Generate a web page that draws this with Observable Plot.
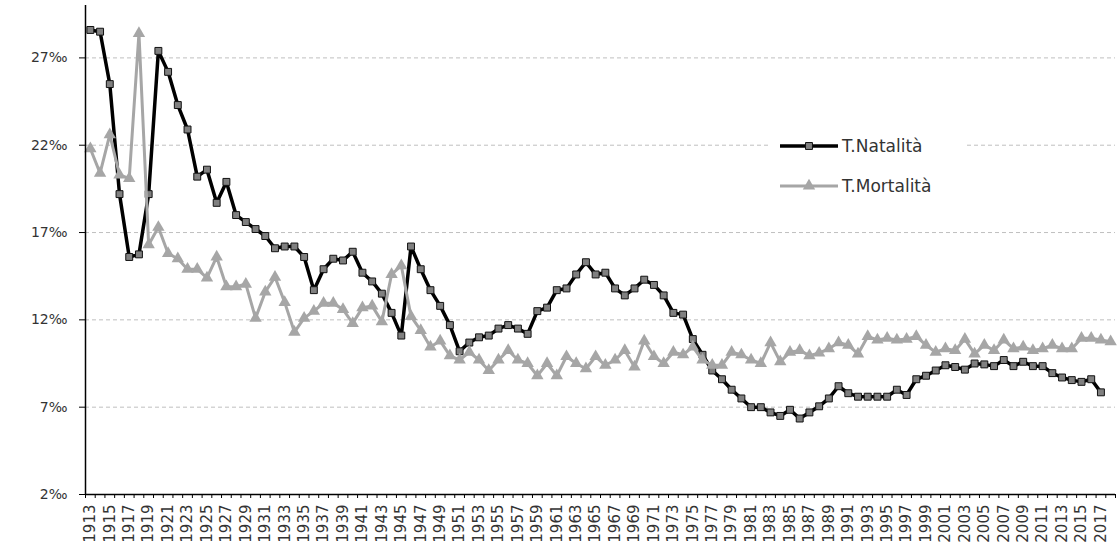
<!DOCTYPE html>
<html>
<head>
<meta charset="utf-8">
<script src="https://cdn.jsdelivr.net/npm/d3@7"></script>
<script src="https://cdn.jsdelivr.net/npm/@observablehq/plot@0.6"></script>
<style>
  html, body { margin: 0; padding: 0; background: #fff; }
  #wrap { position: relative; width: 1120px; height: 547px; font-family: "DejaVu Sans", Verdana, sans-serif; }
  #legend { position: absolute; left: 770px; top: 126px; width: 195px; height: 76px; background: #fff; }
  #legend svg { display: block; }
</style>
</head>
<body>
<div id="wrap"><div id="legend"></div></div>
<script>
const years = d3.range(1913, 2019);
const natalita = [
  28.6, 28.5, 25.5, 19.2, 15.6, 15.75, 19.2, 27.4, 26.2, 24.3,
  22.9, 20.2, 20.6, 18.7, 19.9, 18.0, 17.6, 17.2, 16.8, 16.1,
  16.2, 16.2, 15.6, 13.7, 14.9, 15.5, 15.4, 15.9, 14.7, 14.2,
  13.5, 12.4, 11.1, 16.2, 14.9, 13.7, 12.8, 11.7, 10.2, 10.7,
  11.0, 11.1, 11.5, 11.7, 11.5, 11.2, 12.5, 12.7, 13.7, 13.8,
  14.6, 15.3, 14.6, 14.7, 13.8, 13.4, 13.8, 14.3, 14.0, 13.4,
  12.4, 12.3, 10.9, 10.0, 9.1, 8.6, 8.0, 7.5, 7.0, 7.0,
  6.7, 6.5, 6.85, 6.35, 6.7, 7.05, 7.5, 8.2, 7.8, 7.6,
  7.6, 7.6, 7.6, 8.0, 7.7, 8.6, 8.8, 9.1, 9.4, 9.3,
  9.15, 9.5, 9.45, 9.35, 9.7, 9.35, 9.6, 9.35, 9.35, 8.95,
  8.7, 8.55, 8.45, 8.6, 7.85
];
const mortalita = [
  21.8, 20.4, 22.6, 20.3, 20.1, 28.4, 16.3, 17.3, 15.8, 15.5,
  14.9, 14.9, 14.4, 15.6, 13.9, 13.9, 14.05, 12.1, 13.6, 14.45,
  13.0, 11.3, 12.1, 12.5, 12.95, 12.95, 12.6, 11.8, 12.7, 12.8,
  11.9, 14.6, 15.1, 12.2, 11.4, 10.45, 10.8, 9.95, 9.7, 10.15,
  9.7, 9.1, 9.7, 10.25, 9.7, 9.5, 8.8, 9.5, 8.8, 9.9,
  9.5, 9.2, 9.9, 9.4, 9.7, 10.25, 9.3, 10.8, 9.9, 9.5,
  10.15, 10.0, 10.45, 9.7, 9.4, 9.4, 10.15, 10.0, 9.7, 9.5,
  10.7, 9.6, 10.15, 10.25, 9.95, 10.1, 10.35, 10.7, 10.55, 10.05,
  11.05, 10.85, 10.95, 10.85, 10.9, 11.05, 10.55, 10.15, 10.35, 10.25,
  10.9, 10.05, 10.55, 10.25, 10.85, 10.35, 10.45, 10.25, 10.35, 10.55,
  10.35, 10.35, 10.95, 10.95, 10.85, 10.75
];
const seriesNames = ["T.Natalità", "T.Mortalità"];
const yTicks = [2, 7, 12, 17, 22, 27];
const gridTicks = [7, 12, 17, 22, 27];
const labelYears = years.filter(y => (y - 1913) % 2 === 0);

const birth = natalita.map((v, i) => ({year: years[i], value: v}));
const death = mortalita.map((v, i) => ({year: years[i], value: v}));
const xDomain = [years[0] - 0.5, years[years.length - 1] + 0.5];
const boundaries = d3.range(years[0] - 0.5, years[years.length - 1] + 1, 1);

const blackC = "#000000", sqFill = "#808080", grayC = "#a6a6a6", textC = "#333333";

const chart = Plot.plot({
  width: 1120,
  height: 547,
  marginLeft: 85,
  marginRight: 5,
  marginTop: 5,
  marginBottom: 53,
  style: {fontFamily: "'DejaVu Sans', Verdana, sans-serif", fontSize: "15px", background: "#fff"},
  x: {type: "linear", domain: xDomain},
  y: {domain: [2, 30]},
  marks: [
    Plot.ruleY(gridTicks, {stroke: "#bfbfbf", strokeDasharray: "4,3", strokeWidth: 1}),
    Plot.axisY({ticks: yTicks, tickFormat: d => d + "‰", tickSize: 6, tickPadding: 12, fontSize: 14, color: textC, stroke: "#000", label: null}),
    Plot.axisX({ticks: boundaries, tickFormat: () => "", tickSize: 4, stroke: "#000", label: null}),
    Plot.axisX({ticks: labelYears, tickFormat: d => String(d), tickSize: 0, tickPadding: 10, tickRotate: -90, fontSize: 15, color: textC, label: null}),
    Plot.line(birth, {x: "year", y: "value", stroke: blackC, strokeWidth: 3.5}),
    Plot.dot(birth, {x: "year", y: "value", symbol: "square", r: 3.9, fill: sqFill, stroke: "#111", strokeWidth: 1}),
    Plot.line(death, {x: "year", y: "value", stroke: grayC, strokeWidth: 3}),
    Plot.dot(death, {x: "year", y: "value", symbol: "triangle", r: 4.6, fill: grayC, stroke: "none"}),
    Plot.ruleX([xDomain[0]], {stroke: "#000", strokeWidth: 1.5}),
    Plot.ruleY([2], {stroke: "#000", strokeWidth: 1.5})
  ]
});
const wrap = document.getElementById("wrap");
wrap.insertBefore(chart, wrap.firstChild);

// Legend
const leg = d3.select("#legend").append("svg").attr("width", 195).attr("height", 76);
const items = [
  {name: seriesNames[0], stroke: blackC, w: 3.5, sym: d3.symbolSquare, fill: sqFill, symStroke: "#111", size: Math.PI * 3.9 * 3.9},
  {name: seriesNames[1], stroke: grayC, w: 3, sym: d3.symbolTriangle, fill: grayC, symStroke: "none", size: Math.PI * 4.6 * 4.6}
];
items.forEach((it, i) => {
  const cy = 20 + i * 40;
  const g = leg.append("g");
  g.append("line").attr("x1", 10).attr("x2", 68).attr("y1", cy).attr("y2", cy)
    .attr("stroke", it.stroke).attr("stroke-width", it.w);
  g.append("path").attr("d", d3.symbol(it.sym, it.size)())
    .attr("transform", `translate(39,${cy})`).attr("fill", it.fill).attr("stroke", it.symStroke);
  g.append("text").attr("x", 72).attr("y", cy).attr("dy", "0.35em")
    .attr("font-size", 17).attr("fill", textC).text(it.name);
});
</script>
</body>
</html>
